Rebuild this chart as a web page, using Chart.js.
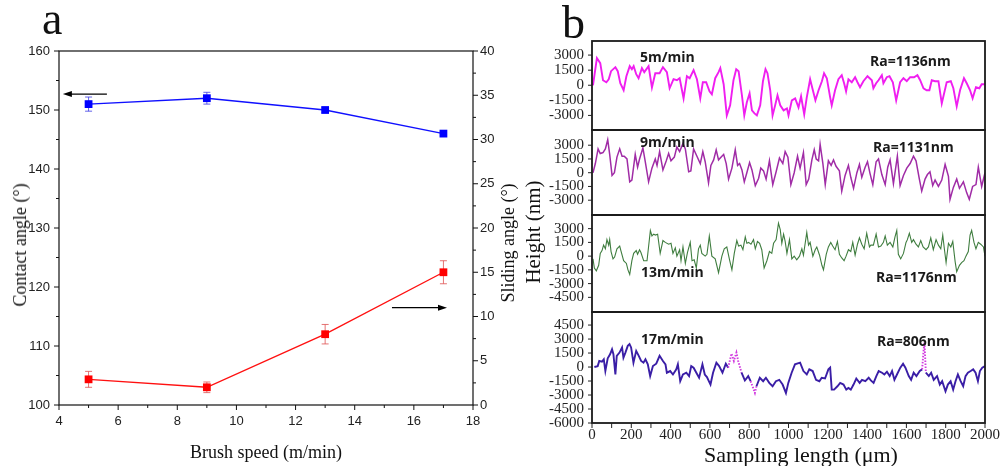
<!DOCTYPE html>
<html><head><meta charset="utf-8">
<script src="https://cdn.jsdelivr.net/npm/chart.js@4.4.1/dist/chart.umd.min.js"></script>
<style>
html,body{margin:0;padding:0;background:#fff;}
body{width:1007px;height:466px;position:relative;overflow:hidden;}
canvas{position:absolute;}
.t{position:absolute;white-space:nowrap;line-height:1;color:#111;}
.serif{font-family:"Liberation Serif","Times New Roman",serif;}
.ann{position:absolute;white-space:nowrap;line-height:1;font-family:"Open Sans",sans-serif;font-weight:700;font-size:14px;color:#1a1a1a;transform:translateY(-50%);}
.rot{transform:translate(-50%,-50%) rotate(-90deg);}
.ctr{transform:translate(-50%,-50%);}
</style></head><body>
<canvas id="ca" width="530" height="426" style="left:0;top:40px"></canvas>
<canvas id="c1" width="487" height="109" style="left:520px;top:31px"></canvas>
<canvas id="c2" width="487" height="105" style="left:520px;top:120px"></canvas>
<canvas id="c3" width="487" height="117" style="left:520px;top:205px"></canvas>
<canvas id="c4" width="487" height="164" style="left:520px;top:302px"></canvas>

<div class="t serif" style="left:42px;top:-4px;font-size:46px;">a</div>
<div class="t serif" style="left:562px;top:0px;font-size:46px;">b</div>
<div class="t serif rot" style="left:20px;top:245px;font-size:18px;">Contact angle (°)</div>
<div class="t serif rot" style="left:508px;top:243px;font-size:18px;">Sliding angle (°)</div>
<div class="t serif ctr" style="left:266px;top:452px;font-size:18px;">Brush speed (m/min)</div>
<div class="t serif rot" style="left:533px;top:232px;font-size:21px;">Height (nm)</div>
<div class="t serif ctr" style="left:801px;top:455px;font-size:22px;">Sampling length (μm)</div>

<div class="ann" style="left:640px;top:57px">5m/min</div>
<div class="ann" style="left:870px;top:61px">Ra=1136nm</div>
<div class="ann" style="left:640px;top:142px">9m/min</div>
<div class="ann" style="left:873px;top:147px">Ra=1131nm</div>
<div class="ann" style="left:641px;top:272px">13m/min</div>
<div class="ann" style="left:876px;top:277px">Ra=1176nm</div>
<div class="ann" style="left:641px;top:339px">17m/min</div>
<div class="ann" style="left:877px;top:341px">Ra=806nm</div>

<script>
// ---------- Panel a data ----------
const speeds = [5, 9, 13, 17];
const contactAngle = [151, 152, 150, 146];
const contactErr = [1.2, 1.0, 0.4, 0.3];
const slidingAngle = [2.9, 2.0, 8.0, 15.0];
const slidingErr = [0.9, 0.6, 1.1, 1.3];

// ---------- Panel b data (height profiles, nm vs µm) ----------
const p5x = [5,25,42,56,73,85,97,119,131,144,161,175,192,203,212,225,237,254,266,288,305,322,344,361,381,395,415,432,446,466,483,497,517,534,551,564,581,598,610,627,644,653,670,686,703,720,734,746,763,775,788,802,814,827,839,856,870,883,893,907,919,932,944,958,975,992,1000,1017,1034,1051,1064,1080,1093,1110,1124,1137,1153,1170,1181,1195,1212,1220,1237,1254,1271,1283,1293,1305,1322,1339,1351,1364,1381,1402,1424,1432,1446,1458,1475,1483,1500,1514,1531,1548,1568,1585,1602,1619,1639,1656,1670,1687,1703,1717,1729,1746,1763,1780,1805,1826,1839,1856,1873,1893,1907,1924,1937,1954,1971,1983,1997];
const p5y = [0,2700,2200,500,300,600,1400,1800,1400,200,-500,900,1900,1600,1900,1100,700,1700,1300,1900,-230,1200,1200,1800,1300,-300,600,500,700,-1300,900,700,1500,600,-1300,300,300,-600,-900,700,1300,1700,100,-3000,-2000,500,1600,1400,-1000,-3000,-1700,-800,-2500,-2800,-3000,-2000,400,1600,1200,-500,-3000,-2000,-1000,-2000,-2500,-2300,-3000,-1500,-1300,-2200,-1100,-2900,-1200,600,-500,-1500,-500,400,1200,700,-1200,-2000,-500,600,1000,200,-600,600,300,800,300,-200,400,900,500,-300,200,500,1000,200,800,900,300,-1500,300,700,400,800,800,1000,500,-300,-500,-500,500,400,400,-1800,300,400,-300,-2100,-500,700,200,-500,-1300,-200,-300,100,100];

const p9x = [5,17,31,42,56,68,80,90,102,114,127,141,153,164,178,192,203,220,232,242,259,271,288,305,322,331,344,361,378,390,402,419,432,446,463,475,492,503,517,534,551,564,576,593,605,619,632,644,661,670,683,695,712,729,741,751,763,775,788,802,814,831,848,859,873,886,903,920,937,954,971,983,997,1012,1029,1046,1059,1076,1090,1103,1119,1131,1141,1153,1161,1175,1187,1203,1217,1229,1242,1259,1271,1288,1305,1317,1331,1348,1361,1373,1390,1402,1415,1429,1446,1458,1475,1492,1505,1517,1534,1554,1568,1585,1602,1619,1636,1649,1666,1678,1695,1707,1720,1734,1746,1763,1780,1797,1814,1822,1839,1856,1870,1890,1907,1920,1937,1954,1966,1983,2000];
const p9y = [0,1000,2600,2100,2200,2600,3600,2000,-300,0,1700,2600,1800,1800,1500,-1000,-800,2000,600,1500,2700,1200,-1000,500,1500,800,2300,300,1300,2100,1300,1700,2800,2300,3200,2600,100,200,2600,1800,1000,2300,1200,-1100,800,1400,2500,1400,1800,2000,1000,-700,500,2500,800,1000,300,-1000,0,1100,300,-1400,-600,500,200,-700,1300,-1300,100,1600,1000,2300,1700,-1300,0,1800,500,2200,-1300,-700,1400,2500,1500,1300,3100,1000,-1300,1300,800,1400,700,200,-2000,-300,800,-500,-1700,0,900,-500,600,1200,-100,-1300,1200,1500,-200,-1300,600,1400,-1200,1800,-1400,-300,500,1000,1800,1300,-700,-2000,-700,-200,100,-1400,-800,-1500,-800,900,-400,-2900,-1600,-700,-1700,-1000,-2200,-2900,-1500,-1300,600,-1500,0];

const p13x = [5,12,22,34,42,51,59,68,76,85,90,97,107,115,127,141,147,161,175,183,192,203,212,225,232,242,249,263,280,297,305,314,322,334,347,361,373,390,402,412,424,432,446,453,463,475,486,500,509,520,531,542,551,559,576,585,597,610,627,644,661,673,686,700,712,724,737,746,758,768,780,788,797,809,822,831,842,853,864,876,890,903,915,924,937,949,958,966,975,983,992,1005,1017,1029,1042,1056,1068,1076,1093,1102,1110,1124,1136,1144,1158,1170,1178,1192,1203,1215,1225,1237,1249,1259,1271,1283,1293,1305,1317,1327,1339,1351,1361,1373,1385,1398,1412,1419,1432,1446,1458,1470,1483,1492,1503,1517,1531,1542,1551,1559,1571,1585,1598,1605,1615,1627,1636,1649,1661,1673,1685,1700,1712,1724,1737,1751,1763,1775,1785,1792,1802,1814,1826,1836,1848,1856,1870,1881,1893,1903,1915,1924,1932,1944,1954,1966,1978,1992,2000];
const p13y = [-300,-1300,-1600,-1000,300,600,1200,800,1800,1200,1800,500,-300,-100,800,1100,600,-500,-800,-1500,-2000,-500,300,600,200,700,400,-500,-500,2800,2200,2400,2300,2400,300,1700,1500,1300,1400,300,900,0,700,-500,1000,-800,400,1500,-500,-400,-1300,800,1200,300,0,200,2200,0,-300,-1800,0,800,1000,-400,-1500,300,1700,1100,1200,700,2100,1400,1500,1300,1800,800,1600,1400,700,-1300,-500,500,300,1400,1800,3600,2900,1400,2400,1600,300,1800,-300,0,-400,0,800,100,2600,1200,1500,0,700,1000,100,-1000,-1500,200,1000,1500,1100,700,1600,200,-200,-500,0,700,500,1500,100,1300,2000,1300,800,2500,1000,1200,1200,2400,1000,1100,1500,2200,1200,1500,1000,2100,2800,200,-300,300,1500,1800,2500,1500,1800,1300,1000,1700,1000,700,1000,2000,700,1800,1200,800,2300,1000,-700,1400,1000,1600,-600,-1700,-1000,-700,-500,0,500,2300,2800,1500,800,1500,1300,1000,0];

const p17x = [12,29,37,51,60,68,80,92,102,109,119,126,140,153,160,170,182,191,199,211,225,238,250,262,272,284,296,310,327,344,361,374,381,398,412,429,437,449,463,480,494,505,517,531,545,562,574,585,603,616,633,647,664,681,693,701,710,722,735,744,761,778,795,807,820,829,837,854,871,885,902,919,936,953,970,987,999,1016,1033,1059,1076,1093,1106,1123,1140,1157,1169,1186,1203,1212,1220,1232,1249,1263,1280,1294,1305,1317,1331,1345,1362,1374,1391,1408,1419,1433,1447,1459,1476,1488,1501,1515,1527,1539,1552,1569,1583,1595,1612,1624,1637,1651,1668,1680,1688,1692,1699,1714,1726,1739,1756,1770,1782,1799,1811,1825,1838,1850,1862,1876,1889,1901,1913,1927,1940,1952,1964,1974,1986,2000];
const p17y = [0,100,650,580,830,-430,940,1370,1900,1370,-800,1200,1550,2100,1000,1550,2270,2450,2100,470,1730,1200,650,470,830,290,-970,100,360,1200,650,290,-610,-430,-800,-250,290,-1520,-800,-610,-970,100,-70,-610,-1150,290,-800,-1080,-1880,-610,470,100,-610,360,-70,650,1440,650,1550,650,-610,-1440,-970,-1520,-2240,-2780,-2060,-1150,-1520,-1150,-1700,-2060,-1520,-1370,-1880,-2780,-1700,-610,290,470,-430,-800,-250,-430,-1370,-1520,-1150,-1230,-250,-70,-2420,-2420,-2060,-1700,-1880,-2420,-2240,-2420,-1880,-1230,-1700,-1370,-1520,-1150,-1440,-1700,-970,-430,-610,-800,-500,-970,-430,-1370,-800,-70,360,-70,-970,-1370,-610,-970,-430,-250,1900,2630,-610,-970,-610,-1370,-970,-1880,-1520,-2600,-1880,-1520,-2420,-1520,-800,-1520,-2060,-970,-610,-430,-250,-610,-1520,-430,-70,100];
// x-ranges (µm) of the 17 m/min trace drawn in magenta dots in the original
const p17MagentaRanges = [[693, 761], [807, 837], [1680, 1700]];

// tick label values
const speedTicks = [4, 6, 8, 10, 12, 14, 16, 18];
const contactTicks = [100, 110, 120, 130, 140, 150, 160];
const slidingTicks = [0, 5, 10, 15, 20, 25, 30, 35, 40];
const heightTicks1 = [-3000, -1500, 0, 1500, 3000];
const heightTicks2 = [-3000, -1500, 0, 1500, 3000];
const heightTicks3 = [-4500, -3000, -1500, 0, 1500, 3000];
const heightTicks4 = [-6000, -4500, -3000, -1500, 0, 1500, 3000, 4500];
const lengthTicks = [0, 200, 400, 600, 800, 1000, 1200, 1400, 1600, 1800, 2000];

// ---------- plugin factories (settings kept in closures) ----------
function framePlugin(color, width) {
  return { id: 'frame', afterDatasetsDraw(chart) {
    const a = chart.chartArea, c = chart.ctx;
    c.save(); c.strokeStyle = color; c.lineWidth = width;
    c.strokeRect(a.left, a.top, a.right - a.left, a.bottom - a.top);
    c.restore();
  } };
}
function tickPlugin(color, axes) {
  return { id: 'tickMarks', afterDatasetsDraw(chart) {
    const c = chart.ctx, a = chart.chartArea;
    c.save(); c.strokeStyle = color; c.lineWidth = 1;
    axes.forEach(t => {
      const s = chart.scales[t.id];
      const vals = [];
      if (t.list) t.list.forEach(v => vals.push([v, true]));
      else for (let k = 0; k < 1000; k++) {
        const v = s.min + k * t.step; if (v > s.max + 1e-6) break;
        const r = (v - s.min) / t.major; vals.push([v, Math.abs(r - Math.round(r)) < 1e-6]);
      }
      vals.forEach(([v, maj]) => {
        const len = maj ? t.majorLen : t.minorLen; const dir = t.inside ? -1 : 1;
        const p = s.getPixelForValue(v);
        c.beginPath();
        if (t.side === 'bottom') { c.moveTo(p, a.bottom); c.lineTo(p, a.bottom + dir * len); }
        else if (t.side === 'left') { c.moveTo(a.left, p); c.lineTo(a.left - dir * len, p); }
        else if (t.side === 'right') { c.moveTo(a.right, p); c.lineTo(a.right + dir * len, p); }
        c.stroke();
      });
    });
    c.restore();
  } };
}
function errorPlugin(specs) {
  return { id: 'errorBars', beforeDatasetsDraw(chart) {
    const c = chart.ctx;
    specs.forEach(sp => {
      const ds = chart.data.datasets[sp.dataset];
      const meta = chart.getDatasetMeta(sp.dataset), ys = chart.scales[ds.yAxisID];
      c.save(); c.strokeStyle = sp.color; c.lineWidth = 1;
      meta.data.forEach((pt, j) => {
        const v = ds.data[j].y, e = sp.errors[j];
        const y1 = ys.getPixelForValue(v + e), y2 = ys.getPixelForValue(v - e);
        c.beginPath();
        c.moveTo(pt.x, y1); c.lineTo(pt.x, y2);
        c.moveTo(pt.x - 3.5, y1); c.lineTo(pt.x + 3.5, y1);
        c.moveTo(pt.x - 3.5, y2); c.lineTo(pt.x + 3.5, y2);
        c.stroke();
      });
      c.restore();
    });
  } };
}
function arrowPlugin(items) {
  return { id: 'arrows', afterDatasetsDraw(chart) {
    const c = chart.ctx, xs = chart.scales.x;
    c.save(); c.strokeStyle = '#000'; c.fillStyle = '#000'; c.lineWidth = 1.2;
    items.forEach(it => {
      const ys = chart.scales[it.axis];
      const y = ys.getPixelForValue(it.y), x1 = xs.getPixelForValue(it.from), x2 = xs.getPixelForValue(it.to);
      const d = x2 > x1 ? 1 : -1;
      c.beginPath(); c.moveTo(x1, y); c.lineTo(x2 - d * 7, y); c.stroke();
      c.beginPath(); c.moveTo(x2, y); c.lineTo(x2 - d * 9, y - 3); c.lineTo(x2 - d * 9, y + 3); c.closePath(); c.fill();
    });
    c.restore();
  } };
}
function fixBox(w, h) {
  return s => {
    if (w !== null) s.width = w;
    if (h !== null) s.height = h;
    s.paddingTop = 0; s.paddingBottom = 0; s.paddingLeft = 0; s.paddingRight = 0;
  };
}

// ---------- Panel a ----------
const sansTick = { family: 'Liberation Sans, Arial, sans-serif', size: 13 };
const noGrid = { display: false, drawTicks: false };
new Chart(document.getElementById('ca'), {
  type: 'line',
  data: {
    datasets: [
      { label: 'Contact angle', yAxisID: 'y', data: speeds.map((x, i) => ({ x, y: contactAngle[i] })),
        borderColor: '#1010ff', backgroundColor: '#0000ff', borderWidth: 1.4,
        pointStyle: 'rect', pointRadius: 5.5, pointBorderWidth: 0, tension: 0 },
      { label: 'Sliding angle', yAxisID: 'y2', data: speeds.map((x, i) => ({ x, y: slidingAngle[i] })),
        borderColor: '#ff1010', backgroundColor: '#ff0000', borderWidth: 1.4,
        pointStyle: 'rect', pointRadius: 5.5, pointBorderWidth: 0, tension: 0 }
    ]
  },
  options: {
    responsive: false, animation: false, events: [],
    layout: { padding: { top: 11, left: 0, right: 0, bottom: 0 } },
    plugins: { legend: { display: false }, tooltip: { enabled: false } },
    scales: {
      x: { type: 'linear', min: 4, max: 18, grid: noGrid, border: { display: false },
        afterBuildTicks: s => { s.ticks = speedTicks.map(v => ({ value: v })); },
        ticks: { font: sansTick, color: '#222', padding: 9, autoSkip: false, maxRotation: 0, callback: v => String(v) },
        afterFit: fixBox(null, 61) },
      y: { type: 'linear', position: 'left', min: 100, max: 160, grid: noGrid, border: { display: false },
        afterBuildTicks: s => { s.ticks = contactTicks.map(v => ({ value: v })); },
        ticks: { font: sansTick, color: '#222', padding: 9, autoSkip: false, callback: v => String(v) },
        afterFit: fixBox(59, null) },
      y2: { type: 'linear', position: 'right', min: 0, max: 40, grid: noGrid, border: { display: false },
        afterBuildTicks: s => { s.ticks = slidingTicks.map(v => ({ value: v })); },
        ticks: { font: sansTick, color: '#222', padding: 7, autoSkip: false, callback: v => String(v) },
        afterFit: fixBox(57, null) }
    }
  },
  plugins: [
    errorPlugin([
      { dataset: 0, errors: contactErr, color: 'rgba(70,70,230,0.85)' },
      { dataset: 1, errors: slidingErr, color: 'rgba(225,90,90,0.85)' }
    ]),
    framePlugin('#111', 1.2),
    tickPlugin('#111', [
      { id: 'x', side: 'bottom', inside: false, step: 1, major: 2, majorLen: 5, minorLen: 3 },
      { id: 'y', side: 'left', inside: false, step: 5, major: 10, majorLen: 5, minorLen: 3 },
      { id: 'y2', side: 'right', inside: false, step: 2.5, major: 5, majorLen: 5, minorLen: 3 }
    ]),
    arrowPlugin([
      { axis: 'y', y: 152.7, from: 5.62, to: 4.13 },
      { axis: 'y2', y: 11, from: 15.26, to: 17.12 }
    ])
  ]
});

// ---------- Panel b ----------
const serifTick = { family: 'Liberation Serif, Times New Roman, serif', size: 15 };
function profileChart(id, xs, ys, color, lw, yMin, yMax, yTicks, showX, pad, hiRanges) {
  const axes = [{ id: 'y', side: 'left', inside: false, list: yTicks, majorLen: 4, minorLen: 4 }];
  if (showX) axes.push({ id: 'x', side: 'bottom', inside: false, step: 100, major: 200, majorLen: 5, minorLen: 5 });
  const inHi = ctx => hiRanges && hiRanges.some(r => ctx.p0.parsed.x >= r[0] && ctx.p1.parsed.x <= r[1]);
  return new Chart(document.getElementById(id), {
    type: 'line',
    data: { datasets: [{ data: xs.map((x, i) => ({ x, y: ys[i] })), borderColor: color, borderWidth: lw,
      pointRadius: 0, tension: 0, fill: false,
      segment: { borderColor: ctx => inHi(ctx) ? '#d23ce0' : undefined,
                 borderDash: ctx => inHi(ctx) ? [1.5, 1.5] : undefined } }] },
    options: {
      responsive: false, animation: false, events: [],
      layout: { padding: { top: pad[0], bottom: pad[1], left: 0, right: 22 } },
      plugins: { legend: { display: false }, tooltip: { enabled: false } },
      scales: {
        x: { type: 'linear', min: 0, max: 2000, display: showX, grid: noGrid, border: { display: false },
          afterBuildTicks: s => { s.ticks = lengthTicks.map(v => ({ value: v })); },
          ticks: { font: serifTick, color: '#222', padding: 3, autoSkip: false, maxRotation: 0, callback: v => String(v) },
          afterFit: fixBox(null, showX ? 43 : 0) },
        y: { type: 'linear', min: yMin, max: yMax, grid: noGrid, border: { display: false },
          afterBuildTicks: s => { s.ticks = yTicks.map(v => ({ value: v })); },
          ticks: { font: serifTick, color: '#222', padding: 8, autoSkip: false, callback: v => String(v) },
          afterFit: fixBox(72, null) }
      }
    },
    plugins: [framePlugin('#1a1a1a', 1.8), tickPlugin('#222', axes)]
  });
}
profileChart('c1', p5x, p5y, '#f01ef0', 1.9, -4450, 4400, heightTicks1, false, [10, 10], null);
profileChart('c2', p9x, p9y, '#a02ca6', 1.5, -4615, 4660, heightTicks2, false, [10, 10], null);
profileChart('c3', p13x, p13y, '#3f7d3f', 1.1, -6100, 4490, heightTicks3, false, [10, 10], null);
profileChart('c4', p17x, p17y, '#3a1ea6', 1.9, -6000, 5900, heightTicks4, true, [10, 0], p17MagentaRanges);
</script>
</body></html>
